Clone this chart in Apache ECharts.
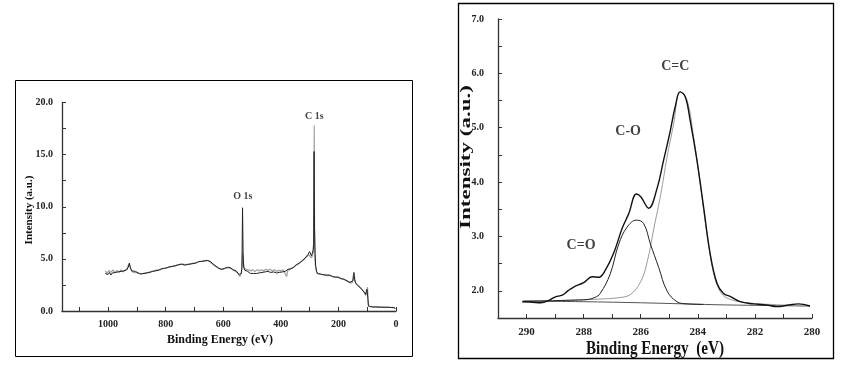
<!DOCTYPE html>
<html><head><meta charset="utf-8">
<script src="https://cdn.jsdelivr.net/npm/echarts@6/dist/echarts.min.js"></script>
<style>html,body{margin:0;padding:0;background:#fff}#c{width:850px;height:390px}</style>
</head><body><div id="c"></div>
<script>
// ---- Survey spectrum (left): [binding energy eV, intensity]
const surveyBlack = [
[1010,3.6],[1000,3.5],[995,3.7],[990,3.45],[985,3.65],[980,3.5],[975,3.7],[970,3.55],[965,3.75],[960,3.6],[955,3.8],[950,3.7],[945,3.85],[940,3.8],[935,3.95],[930,4.2],[926,4.6],[922,4.1],[918,3.85],[912,3.75],[905,3.8],[900,3.7],[895,3.65],[890,3.6],[885,3.55],[880,3.65],[875,3.6],[870,3.7],[865,3.65],[860,3.75],[855,3.7],[850,3.85],[845,3.8],[840,3.9],[835,3.85],[830,3.95],[825,3.9],[820,4.0],[815,4.05],[810,4.0],[805,4.1],[800,4.05],[795,4.15],[790,4.1],[785,4.25],[780,4.2],[775,4.3],[770,4.25],[765,4.35],[760,4.3],[755,4.45],[750,4.4],[745,4.5],[740,4.45],[735,4.4],[730,4.5],[725,4.45],[720,4.55],[715,4.5],[710,4.6],[705,4.55],[700,4.65],[695,4.6],[690,4.7],[685,4.75],[680,4.8],[675,4.75],[670,4.85],[665,4.8],[660,4.9],[655,4.85],[650,4.8],[645,4.75],[640,4.6],[635,4.5],[630,4.4],[625,4.3],[620,4.2],[615,4.1],[610,4.05],[605,4.0],[600,4.05],[595,4.1],[590,4.15],[585,4.2],[580,4.2],[575,4.15],[570,4.05],[565,3.95],[560,3.9],[555,3.85],[550,3.7],[545,3.5],[540,3.4],[537,3.6],[535,4.2],[533,9.9],[531,5.5],[529,4.2],[525,3.9],[520,3.85],[515,3.8],[510,3.7],[505,3.6],[500,3.55],[495,3.6],[490,3.5],[485,3.6],[480,3.55],[475,3.65],[470,3.6],[465,3.7],[460,3.65],[455,3.75],[450,3.7],[445,3.8],[440,3.75],[435,3.7],[430,3.65],[425,3.75],[420,3.7],[415,3.65],[410,3.6],[405,3.7],[400,3.65],[395,3.75],[390,3.7],[385,3.8],[380,3.9],[375,4.0],[370,3.9],[365,4.05],[360,4.1],[355,4.2],[350,4.3],[345,4.45],[340,4.55],[335,4.6],[330,4.75],[325,4.85],[320,5.0],[315,5.1],[310,5.25],[305,5.45],[300,5.7],[297,5.6],[294,5.3],[291,5.5],[288,5.8],[286,6.5],[284.5,15.3],[283,8.0],[281,5.5],[279,4.3],[276,3.8],[272,3.6],[268,3.5],[262,3.55],[256,3.5],[250,3.45],[245,3.5],[240,3.45],[235,3.4],[230,3.45],[225,3.35],[220,3.3],[215,3.35],[210,3.25],[205,3.2],[200,3.25],[195,3.15],[190,3.1],[185,3.15],[180,3.05],[175,2.95],[170,2.9],[165,2.8],[160,2.75],[155,2.7],[150,2.9],[148,3.4],[146,3.7],[144,3.0],[140,2.65],[135,2.5],[130,2.4],[125,2.3],[120,2.1],[115,2.0],[110,1.8],[106,1.6],[103,1.5],[101,2.1],[99,2.0],[98,1.3],[96,0.5],[93,0.4],[88,0.42],[80,0.38],[70,0.4],[60,0.36],[50,0.38],[40,0.35],[30,0.37],[20,0.33],[10,0.35],[5,0.3],[2,0.25]
];
const surveyGray = [
[1010,3.85],[1003,3.6],[997,3.9],[990,3.7],[983,3.95],[976,3.65],[969,3.9],[962,3.7],[955,3.95],[948,3.75],[941,3.9],[934,4.05],[928,4.5],[923,4.2],[917,3.8],[910,3.7],[900,3.65],[890,3.55],[880,3.6],[870,3.65],[860,3.7],[850,3.8],[840,3.85],[830,3.95],[820,3.95],[810,4.05],[800,4.1],[790,4.2],[780,4.25],[770,4.3],[760,4.4],[750,4.45],[740,4.5],[730,4.45],[720,4.5],[710,4.55],[700,4.6],[690,4.65],[680,4.75],[670,4.8],[660,4.85],[650,4.8],[640,4.55],[630,4.35],[620,4.15],[610,4.0],[600,4.0],[590,4.1],[580,4.15],[570,4.0],[560,3.85],[550,3.65],[542,3.3],[537,3.7],[534,5.0],[532,5.6],[530,4.6],[527,4.1],[520,4.0],[512,3.95],[505,3.85],[498,3.95],[490,3.8],[482,3.95],[475,3.85],[468,3.95],[460,3.85],[452,4.0],[445,3.9],[438,4.0],[430,3.85],[422,3.95],[415,3.8],[408,3.9],[400,3.85],[392,3.95],[385,3.6],[380,3.3],[376,3.9],[370,4.0],[362,4.1],[355,4.2],[348,4.4],[340,4.5],[332,4.7],[325,4.8],[318,5.0],[310,5.2],[303,5.4],[298,5.5],[294,5.1],[290,5.3],[287,5.8],[285,7.0],[284,17.8],[283,8.5],[281.5,5.0],[280,4.4],[277,4.0],[274,3.6],[268,3.55],[260,3.5],[250,3.5],[240,3.4],[230,3.4],[220,3.3],[210,3.25],[200,3.2],[190,3.1],[180,3.0],[170,2.85],[160,2.7],[152,2.7],[148,3.1],[145,3.5],[142,2.9],[138,2.6],[130,2.4],[120,2.15],[112,1.85],[105,1.5],[101,1.8],[99,2.3],[97,1.2],[95,0.45],[90,0.4],[80,0.4],[70,0.38],[60,0.4],[50,0.35],[40,0.38],[30,0.35],[20,0.36],[10,0.33],[3,0.28]
];
const surveyPeakLabels = [['O 1s',532,11.0],['C 1s',284,18.7]];

// ---- C 1s high resolution (right)
const c1sEnvelope = [
[290.15,1.80],[289.8,1.79],[289.5,1.78],[289.2,1.83],[288.99,1.89],[288.75,1.92],[288.55,2.0],[288.35,2.07],[288.0,2.15],[287.7,2.26],[287.47,2.25],[287.24,2.38],[286.95,2.69],[286.65,3.15],[286.42,3.42],[286.15,3.78],[286.0,3.73],[285.72,3.52],[285.43,3.88],[285.2,4.4],[284.97,4.93],[284.79,5.39],[284.62,5.66],[284.44,5.57],[284.27,5.14],[284.03,4.4],[283.8,3.55],[283.57,2.69],[283.33,2.14],[283.1,1.95],[282.87,1.9],[282.52,1.8],[282.05,1.76],[281.6,1.74],[281.23,1.71],[280.8,1.74],[280.48,1.76],[280.07,1.72]
];
const c1sCO = [
[290.1,1.81],[289.0,1.82],[288.3,1.83],[287.88,1.84],[287.6,1.88],[287.42,1.95],[287.07,2.31],[286.77,2.86],[286.48,3.17],[286.15,3.30],[285.9,3.24],[285.66,2.86],[285.37,2.43],[285.08,2.0],[284.73,1.80],[284.38,1.76],[283.8,1.75]
];
const c1sCC = [
[289.0,1.82],[288.2,1.83],[287.42,1.85],[286.83,1.87],[286.37,1.93],[286.0,2.17],[285.77,2.54],[285.54,3.15],[285.3,3.77],[285.08,4.45],[284.85,5.06],[284.62,5.66],[284.38,5.51],[284.15,4.84],[283.92,3.98],[283.68,3.06],[283.45,2.33],[283.22,1.99],[282.99,1.87],[282.52,1.8],[281.82,1.76],[280.07,1.72]
];
const c1sBaseline = [
[290.15,1.81],[288.0,1.80],[286.0,1.78],[284.5,1.76],[283.0,1.74],[281.5,1.73],[280.07,1.72]
];
const c1sLabels = [['C=C',284.79,6.12],['C-O',286.44,4.93],['C=O',288.09,2.83]];

const serif = '"Liberation Serif","DejaVu Serif",serif';
const chart = echarts.init(document.getElementById('c'));

function lbl(name, x, y, gridIndex, size) {
  return {
    type: 'scatter', xAxisIndex: gridIndex, yAxisIndex: gridIndex, silent: true,
    symbolSize: 0, data: [[x, y]], z: 5,
    label: { show: true, position: 'inside', formatter: name,
      fontFamily: serif, fontWeight: 'bold', fontSize: size, color: '#111' }
  };
}
function title(text, x, y, size, rot, sx, sy) {
  return { type: 'text', x: x, y: y, rotation: rot, scaleX: sx, scaleY: sy, z: 10,
    style: { text: text, fontFamily: serif, fontWeight: 'bold', fontSize: size,
      fill: '#111', align: 'center', verticalAlign: 'middle' } };
}

const axisCommon = {
  axisLine: { onZero: false, lineStyle: { color: '#333', width: 1.3 } },
  axisTick: { inside: true, length: 4, lineStyle: { color: '#333' } },
  splitLine: { show: false },
  axisLabel: { fontFamily: serif, fontWeight: 'bold', fontSize: 10, color: '#222' }
};

const option = {
  animation: false,
  backgroundColor: '#fff',
  graphic: [
    { type: 'rect', shape: { x: 15.5, y: 80.5, width: 397, height: 276 }, style: { fill: 'none', stroke: '#000', lineWidth: 1 }, z: 0 },
    { type: 'rect', shape: { x: 458.5, y: 3.5, width: 375, height: 355 }, style: { fill: 'none', stroke: '#000', lineWidth: 1.3 }, z: 0 },
    title('Binding Energy (eV)', 220, 340, 12, 0, 1, 1),
    title('Intensity (a.u.)', 29, 210, 11, Math.PI / 2, 1, 1),
    title('Binding Energy  (eV)', 655, 349, 19, 0, 0.8, 1),
    title('Intensity (a.u.)', 466, 157, 23, Math.PI / 2, 1, 0.66)
  ],
  grid: [
    { left: 62, right: 454, top: 102.5, bottom: 79 },
    { left: 498, right: 38, top: 19, bottom: 72 }
  ],
  xAxis: [
    Object.assign({}, axisCommon, {
      gridIndex: 0, type: 'value', inverse: true, min: 0, max: 1160, interval: 100,
      axisLabel: Object.assign({}, axisCommon.axisLabel, { margin: 8,
        formatter: v => (v % 200 === 0 ? String(v) : '') })
    }),
    Object.assign({}, axisCommon, {
      gridIndex: 1, type: 'value', inverse: true, min: 280, max: 291, interval: 1,
      axisLabel: Object.assign({}, axisCommon.axisLabel, { margin: 9, fontSize: 11,
        formatter: v => (v % 2 === 0 ? String(v) : '') })
    })
  ],
  yAxis: [
    Object.assign({}, axisCommon, {
      gridIndex: 0, type: 'value', min: 0, max: 20, interval: 2.5,
      axisLabel: Object.assign({}, axisCommon.axisLabel, { margin: 9,
        formatter: v => (v % 5 === 0 ? v.toFixed(1) : '') })
    }),
    Object.assign({}, axisCommon, {
      gridIndex: 1, type: 'value', min: 1.5, max: 7.0, interval: 0.5,
      axisLabel: Object.assign({}, axisCommon.axisLabel, { margin: 14,
        formatter: v => (Number.isInteger(v) ? v.toFixed(1) : '') })
    })
  ],
  series: [
    { type: 'line', xAxisIndex: 0, yAxisIndex: 0, data: surveyGray, showSymbol: false,
      lineStyle: { color: '#a0a0a0', width: 1.2 }, z: 2 },
    { type: 'line', xAxisIndex: 0, yAxisIndex: 0, data: surveyBlack, showSymbol: false,
      lineStyle: { color: '#222', width: 1 }, z: 3 },
    { type: 'line', xAxisIndex: 1, yAxisIndex: 1, data: c1sBaseline, showSymbol: false, smooth: 0.3,
      lineStyle: { color: '#555', width: 1 }, z: 2 },
    { type: 'line', xAxisIndex: 1, yAxisIndex: 1, data: c1sCC, showSymbol: false, smooth: 0.4,
      lineStyle: { color: '#9a9a9a', width: 1 }, z: 2 },
    { type: 'line', xAxisIndex: 1, yAxisIndex: 1, data: c1sCO, showSymbol: false, smooth: 0.4,
      lineStyle: { color: '#222', width: 1 }, z: 3 },
    { type: 'line', xAxisIndex: 1, yAxisIndex: 1, data: c1sEnvelope, showSymbol: false, smooth: 0.4,
      lineStyle: { color: '#111', width: 1.4 }, z: 4 }
  ].concat(surveyPeakLabels.map(p => lbl(p[0], p[1], p[2], 0, 10)))
   .concat(c1sLabels.map(p => lbl(p[0], p[1], p[2], 1, 14)))
};
chart.setOption(option);
</script></body></html>
